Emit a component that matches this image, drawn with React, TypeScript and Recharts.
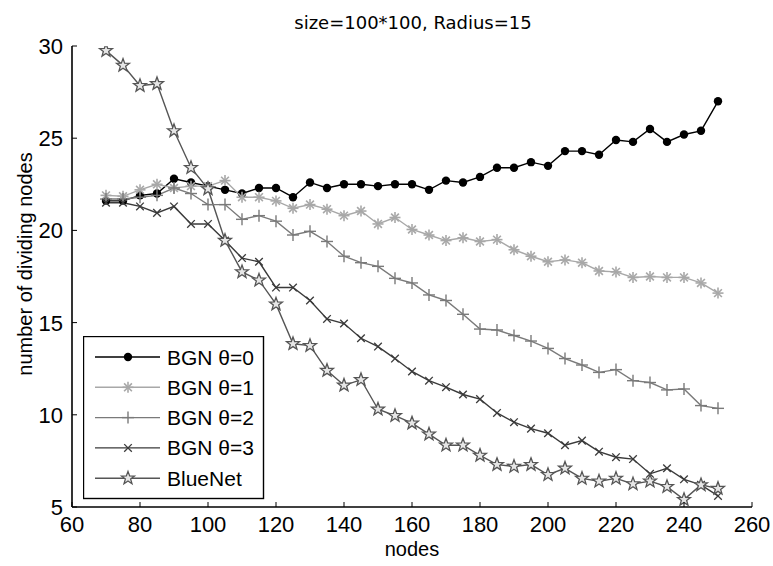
import { Legend, Line, LineChart, XAxis, YAxis } from "recharts"

const nodes = [70, 75, 80, 85, 90, 95, 100, 105, 110, 115, 120, 125, 130, 135, 140, 145, 150, 155, 160, 165, 170, 175, 180, 185, 190, 195, 200, 205, 210, 215, 220, 225, 230, 235, 240, 245, 250]

const bgn0 = [21.6, 21.6, 21.9, 22.0, 22.8, 22.6, 22.4, 22.2, 22.0, 22.3, 22.3, 21.8, 22.6, 22.3, 22.5, 22.5, 22.4, 22.5, 22.5, 22.2, 22.7, 22.6, 22.9, 23.4, 23.4, 23.7, 23.5, 24.3, 24.3, 24.1, 24.9, 24.8, 25.5, 24.8, 25.2, 25.4, 27.0]
const bgn1 = [21.9, 21.85, 22.2, 22.5, 22.3, 22.4, 22.4, 22.7, 21.8, 21.8, 21.6, 21.2, 21.4, 21.15, 20.8, 21.05, 20.35, 20.7, 20.05, 19.75, 19.45, 19.6, 19.4, 19.5, 18.95, 18.6, 18.3, 18.4, 18.25, 17.8, 17.75, 17.45, 17.5, 17.45, 17.45, 17.15, 16.6]
const bgn2 = [21.7, 21.7, 21.8, 21.9, 22.3, 22.0, 21.4, 21.4, 20.6, 20.8, 20.5, 19.75, 19.95, 19.4, 18.6, 18.25, 18.05, 17.4, 17.15, 16.5, 16.2, 15.45, 14.65, 14.6, 14.3, 14.0, 13.6, 13.05, 12.7, 12.3, 12.45, 11.85, 11.75, 11.35, 11.4, 10.5, 10.35]
const bgn3 = [21.5, 21.5, 21.3, 20.95, 21.3, 20.35, 20.35, 19.45, 18.5, 18.3, 16.9, 16.9, 16.2, 15.2, 14.95, 14.15, 13.7, 13.05, 12.35, 11.85, 11.5, 11.1, 10.85, 10.1, 9.6, 9.25, 9.0, 8.35, 8.6, 8.0, 7.7, 7.6, 6.8, 7.1, 6.5, 6.2, 5.6]
const blueNet = [29.75, 28.95, 27.85, 27.95, 25.4, 23.4, 22.25, 19.45, 17.75, 17.3, 16.0, 13.85, 13.75, 12.4, 11.6, 11.9, 10.3, 9.95, 9.55, 8.95, 8.35, 8.35, 7.8, 7.3, 7.2, 7.3, 6.75, 7.1, 6.55, 6.4, 6.55, 6.25, 6.4, 6.1, 5.4, 6.2, 6.0]

const xTicks = [60, 80, 100, 120, 140, 160, 180, 200, 220, 240, 260]
const yTicks = [5, 10, 15, 20, 25, 30]

type Kind = "circle" | "asterisk" | "plus" | "cross" | "star"

const series: { key: string; name: string; color: string; marker: Kind }[] = [
  { key: "bgn0", name: "BGN θ=0", color: "#000000", marker: "circle" },
  { key: "bgn1", name: "BGN θ=1", color: "#a8a8a8", marker: "asterisk" },
  { key: "bgn2", name: "BGN θ=2", color: "#7a7a7a", marker: "plus" },
  { key: "bgn3", name: "BGN θ=3", color: "#3a3a3a", marker: "cross" },
  { key: "blueNet", name: "BlueNet", color: "#555555", marker: "star" },
]

const data = nodes.map((n, i) => ({
  nodes: n,
  bgn0: bgn0[i],
  bgn1: bgn1[i],
  bgn2: bgn2[i],
  bgn3: bgn3[i],
  blueNet: blueNet[i],
}))

const tickFont = "'Liberation Sans Narrow', 'Liberation Sans', Arial, sans-serif"
const textFont = "'Liberation Sans', Arial, sans-serif"

function starPath(cx: number, cy: number, ro: number, ri: number) {
  let d = ""
  for (let k = 0; k < 10; k++) {
    const r = k % 2 === 0 ? ro : ri
    const a = -Math.PI / 2 + (k * Math.PI) / 5
    d += (k === 0 ? "M" : "L") + (cx + r * Math.cos(a)).toFixed(2) + "," + (cy + r * Math.sin(a)).toFixed(2)
  }
  return d + "Z"
}

function Marker({ kind, cx, cy, color }: { kind: Kind; cx: number; cy: number; color: string }) {
  if (kind === "circle") return <circle cx={cx} cy={cy} r={4.2} fill="#000" />
  if (kind === "asterisk") {
    const s = 5.5
    const d = 3.9
    return (
      <g stroke={color} strokeWidth={1.6}>
        <line x1={cx - s} y1={cy} x2={cx + s} y2={cy} />
        <line x1={cx} y1={cy - s} x2={cx} y2={cy + s} />
        <line x1={cx - d} y1={cy - d} x2={cx + d} y2={cy + d} />
        <line x1={cx - d} y1={cy + d} x2={cx + d} y2={cy - d} />
      </g>
    )
  }
  if (kind === "plus") {
    const s = 6
    return (
      <g stroke={color} strokeWidth={1.4}>
        <line x1={cx - s} y1={cy} x2={cx + s} y2={cy} />
        <line x1={cx} y1={cy - s} x2={cx} y2={cy + s} />
      </g>
    )
  }
  if (kind === "cross") {
    const s = 3.8
    return (
      <g stroke={color} strokeWidth={1.3}>
        <line x1={cx - s} y1={cy - s} x2={cx + s} y2={cy + s} />
        <line x1={cx - s} y1={cy + s} x2={cx + s} y2={cy - s} />
      </g>
    )
  }
  return <path d={starPath(cx, cy, 6.8, 2.8)} fill="#e6e6e6" stroke={color} strokeWidth={1.3} />
}

const makeDot = (kind: Kind, color: string) => (props: any) => {
  const { cx, cy, index } = props
  if (cx == null || cy == null) return <g key={`${kind}-${index}`} />
  return (
    <g key={`${kind}-${index}`}>
      <Marker kind={kind} cx={cx} cy={cy} color={color} />
    </g>
  )
}

function BottomTick({ x, y, payload }: any) {
  return (
    <g>
      <line x1={x} y1={y} x2={x} y2={y - 5} stroke="#000" />
      <text x={x} y={y + 25} textAnchor="middle" fontFamily={tickFont} fontSize={22} fill="#000">
        {payload.value}
      </text>
    </g>
  )
}

function TopTick({ x, y }: any) {
  return <line x1={x} y1={y} x2={x} y2={y + 5} stroke="#000" />
}

function LeftTick({ x, y, payload }: any) {
  return (
    <g>
      <line x1={x} y1={y} x2={x + 5} y2={y} stroke="#000" />
      <text x={x - 9} y={y + 8} textAnchor="end" fontFamily={tickFont} fontSize={22} fill="#000">
        {payload.value}
      </text>
    </g>
  )
}

function RightTick({ x, y }: any) {
  return <line x1={x} y1={y} x2={x - 5} y2={y} stroke="#000" />
}

const renderLegend = () => (
  <svg width={182} height={164} style={{ display: "block" }}>
    <rect x={0.5} y={0.5} width={180} height={162} fill="#fff" stroke="#000" strokeWidth={1.4} />
    {series.map((s, i) => {
      const cy = 21 + i * 30.3
      return (
        <g key={s.key}>
          <line x1={12} x2={77} y1={cy} y2={cy} stroke={s.color} strokeWidth={1.4} />
          <Marker kind={s.marker} cx={45} cy={cy} color={s.color} />
          <text x={84} y={cy + 7.5} fontFamily={textFont} fontSize={21} fill="#000">
            {s.name}
          </text>
        </g>
      )
    })}
  </svg>
)

export default function App() {
  return (
    <div style={{ position: "absolute", left: 0, top: 0, width: 773, height: 566, background: "#fff" }}>
      <LineChart width={773} height={566} data={data} margin={{ top: 46, right: 21, bottom: 0, left: 0 }}>
        <XAxis
          dataKey="nodes"
          type="number"
          domain={[60, 260]}
          ticks={xTicks}
          height={59}
          tickSize={0}
          tickMargin={0}
          tickLine={false}
          tick={<BottomTick />}
          axisLine={{ stroke: "#000", strokeWidth: 1.6 }}
          allowDataOverflow
        />
        <XAxis
          xAxisId="top"
          orientation="top"
          type="number"
          domain={[60, 260]}
          ticks={xTicks}
          height={0}
          tickSize={0}
          tickMargin={0}
          tickLine={false}
          tick={<TopTick />}
          axisLine={{ stroke: "#000", strokeWidth: 1.6 }}
          allowDataOverflow
        />
        <YAxis
          type="number"
          domain={[5, 30]}
          ticks={yTicks}
          width={72}
          tickSize={0}
          tickMargin={0}
          tickLine={false}
          tick={<LeftTick />}
          axisLine={{ stroke: "#000", strokeWidth: 1.6 }}
          allowDataOverflow
        />
        <YAxis
          yAxisId="right"
          orientation="right"
          type="number"
          domain={[5, 30]}
          ticks={yTicks}
          width={0}
          tickSize={0}
          tickMargin={0}
          tickLine={false}
          tick={<RightTick />}
          axisLine={{ stroke: "#000", strokeWidth: 1.6 }}
          allowDataOverflow
        />
        <Legend
          layout="vertical"
          align="center"
          verticalAlign="middle"
          content={renderLegend}
          wrapperStyle={{ position: "absolute", left: 83, top: 336, width: 182, height: 164 }}
        />
        {series.map((s) => (
          <Line
            key={s.key}
            dataKey={s.key}
            name={s.name}
            type="linear"
            stroke={s.color}
            strokeWidth={1.4}
            dot={makeDot(s.marker, s.color)}
            activeDot={false}
            isAnimationActive={false}
          />
        ))}
      </LineChart>
      <div
        style={{
          position: "absolute",
          left: 413,
          top: 22,
          transform: "translate(-50%, -50%)",
          fontFamily: "'DejaVu Sans', sans-serif",
          fontSize: 18,
          whiteSpace: "nowrap",
          color: "#000",
        }}
      >
        size=100*100, Radius=15
      </div>
      <div
        style={{
          position: "absolute",
          left: 412,
          top: 549,
          transform: "translate(-50%, -50%)",
          fontFamily: textFont,
          fontSize: 20,
          whiteSpace: "nowrap",
          color: "#000",
        }}
      >
        nodes
      </div>
      <div
        style={{
          position: "absolute",
          left: 25,
          top: 264,
          transform: "translate(-50%, -50%) rotate(-90deg)",
          fontFamily: textFont,
          fontSize: 20,
          whiteSpace: "nowrap",
          color: "#000",
        }}
      >
        number of dividing nodes
      </div>
    </div>
  )
}
